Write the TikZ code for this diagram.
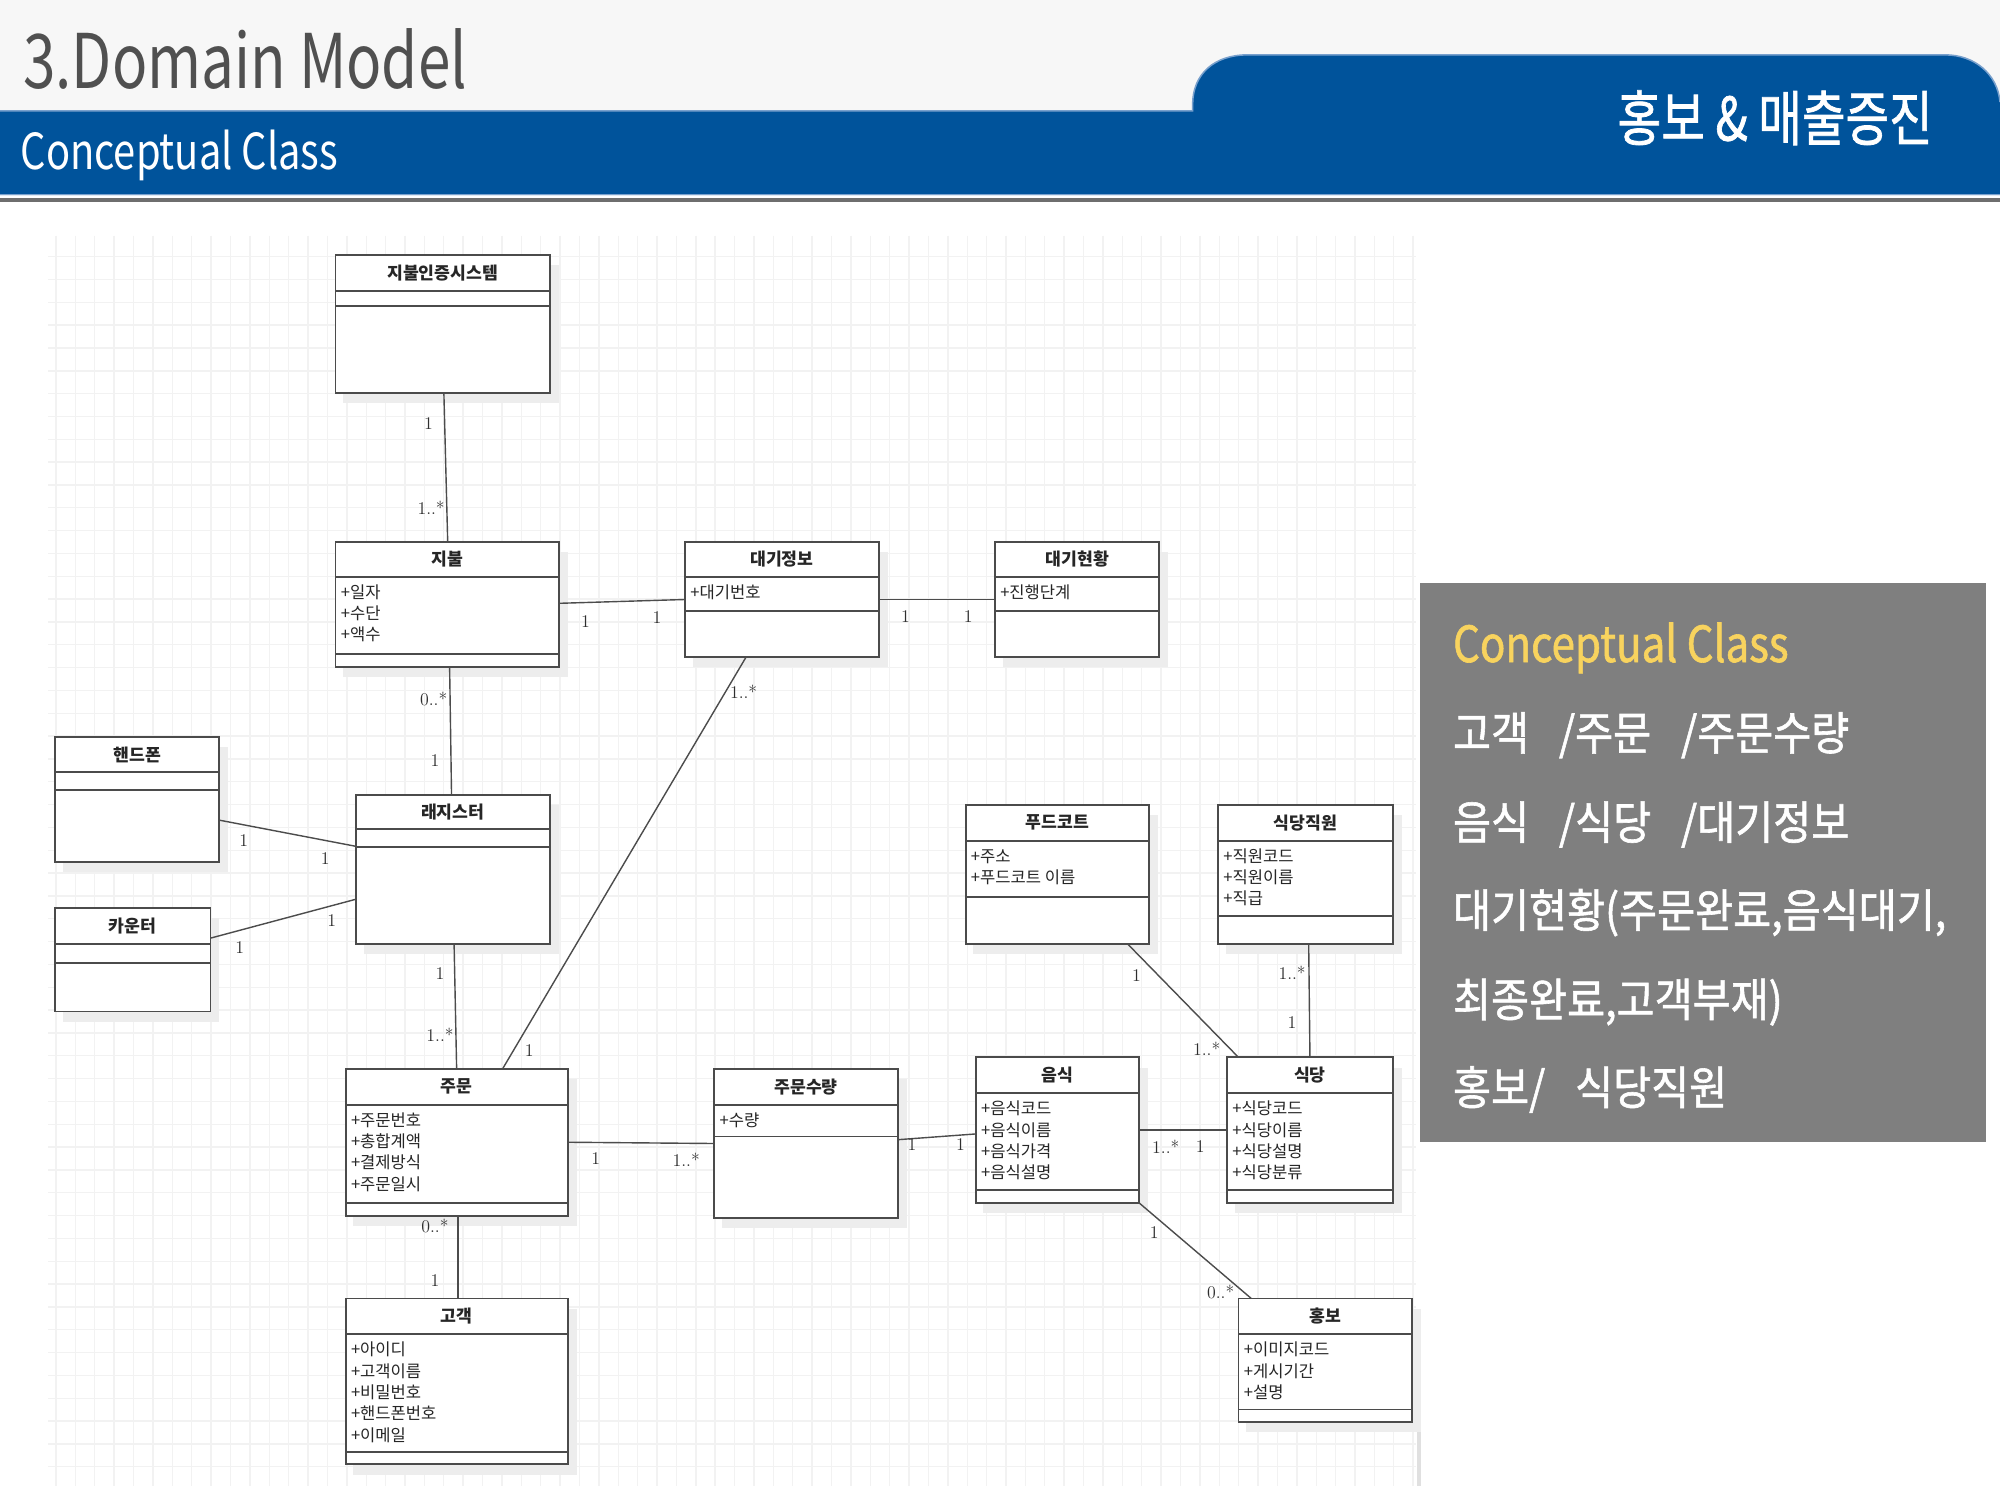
\documentclass[tikz,border=0pt]{standalone}
\usepackage{fontspec}
\usepackage{graphicx}
\usetikzlibrary{calc}
\newfontfamily\kr{Noto Sans CJK KR}
\newfontfamily\krm{Noto Sans CJK KR}[FakeBold=1.3]
\definecolor{hdrblue}{RGB}{0,83,155}
\definecolor{hdrlight}{RGB}{247,247,247}
\definecolor{hdrline}{RGB}{120,160,205}
\definecolor{hdrgray}{RGB}{80,80,80}
\definecolor{boxc}{RGB}{75,75,75}
\definecolor{panelgray}{RGB}{127,127,127}
\definecolor{panelyellow}{RGB}{248,211,94}
\definecolor{gridc}{RGB}{242,242,242}
\tikzset{
  clsbox/.style={draw=boxc, line width=1.5pt, fill=white, inner sep=0pt, outer sep=0pt},
  clsline/.style={draw=boxc, line width=1.5pt},
  boxshadow/.style={fill=black!7},
  clstitle/.style={font=\kr\bfseries\fontsize{13.5}{16}\selectfont, text=black!85, inner sep=0pt},
  clsattr/.style={font=\kr\fontsize{13}{16}\selectfont, text=black!85, inner sep=0pt},
  mult/.style={font=\rmfamily\fontsize{14}{16}\selectfont, text=black!82, inner sep=0pt},
  assoc/.style={draw=black!70, line width=1.1pt},
  gridl/.style={draw=gridc, line width=1.1pt},
  paneltext/.style={font=\krm\fontsize{36}{40}\selectfont, text=white, inner sep=0pt, anchor=base west},
}
% name, x1, y1, x2, y2, title, line1, line2, attributes
\newcommand\umlcls[9]{%
  \fill[boxshadow] ({#2+6},{#3+8}) rectangle ({#4+7},{#5+8});
  \node[clsbox, minimum width={#4-#2}, minimum height={#5-#3}, anchor=north west] (#1) at (#2,#3) {};
  \draw[clsline] (#2,#7) -- (#4,#7);
  \draw[clsline] (#2,#8) -- (#4,#8);
  \node[clstitle] (#1t) at ({(#2+#4)/2},{(#3+#7)/2}) {#6};
  \if\relax\detokenize{#9}\relax\else
    \foreach \a [count=\i] in {#9} {\node[clsattr, anchor=base west] (#1a\i) at ({#2+4},{#7+17+(\i-1)*16.7}) {\a};}
  \fi
}
\begin{document}
\begin{tikzpicture}[x=1pt,y=-1pt]
\useasboundingbox (0,0) rectangle (1568,1176);
\fill[white] (0,0) rectangle (1568,1176);
% ---------- header ----------
\fill[hdrlight] (0,0) rectangle (1568,87);
\fill[hdrblue] (0,87) -- (935,87) -- (935,82) .. controls (935,58) and (952,43) .. (978,43) -- (1525,43) .. controls (1548,43) and (1566,58) .. (1568,80) -- (1568,153) -- (0,153) -- cycle;
\draw[hdrline, line width=1.2pt] (0,87) -- (935,87) -- (935,82) .. controls (935,58) and (952,43) .. (978,43) -- (1525,43) .. controls (1548,43) and (1566,58) .. (1568,80);
\draw[hdrline, line width=1pt] (0,152.5) -- (1568,152.5);
\fill[black!57] (0,155.5) rectangle (1568,158.5);
\node[inner sep=0pt, anchor=base west, text=hdrgray] (title) at (18,69) {\resizebox{348pt}{47pt}{\kr 3.Domain Model}};
\node[inner sep=0pt, anchor=base west, text=white] (subtitle) at (16,133) {\resizebox{249pt}{31pt}{\kr Conceptual Class}};
\node[inner sep=0pt, anchor=south west, text=white] (tabtitle) at (1268,114) {\resizebox*{247pt}{43pt}{\krm 홍보 \& 매출증진}};
% ---------- grid ----------
\foreach \i in {0,...,70} \draw[gridl] ({43.9+\i*15.2},185) -- ({43.9+\i*15.2},1165);
\foreach \j in {0,...,53} \draw[gridl] (38,{201.2+\j*17.9}) -- (1110,{201.2+\j*17.9});
\fill[black!12] (1111,1120) rectangle (1114,1165);
% ---------- classes ----------
\umlcls{auth}{263}{200}{431}{308}{지불인증시스템}{228}{240}{}
\umlcls{pay}{263}{425}{438}{523}{지불}{452}{513}{+일자,+수단,+액수}
\umlcls{winfo}{537}{425}{689}{515}{대기정보}{452}{479}{+대기번호}
\umlcls{wstat}{780}{425}{909}{515}{대기현황}{452}{479}{+진행단계}
\umlcls{phone}{43}{578}{172}{676}{핸드폰}{605}{619}{}
\umlcls{counter}{43}{712}{165}{793}{카운터}{740}{755}{}
\umlcls{reg}{279}{623}{431}{740}{래지스터}{650}{664}{}
\umlcls{order}{271}{838}{445}{953}{주문}{866}{943}{+주문번호,+총합계액,+결제방식,+주문일시}
\umlcls{qty}{560}{838}{704}{955}{주문수량}{866}{891}{+수량}
\umlcls{food}{765}{829}{893}{943}{음식}{857}{933}{+음식코드,+음식이름,+음식가격,+음식설명}
\umlcls{rest}{962}{829}{1092}{943}{식당}{857}{933}{+식당코드,+식당이름,+식당설명,+식당분류}
\umlcls{court}{757}{631}{901}{740}{푸드코트}{659}{703}{+주소,+푸드코트 이름}
\umlcls{staff}{955}{631}{1092}{740}{식당직원}{659}{718}{+직원코드,+직원이름,+직급}
\umlcls{cust}{271}{1018}{445}{1148}{고객}{1046}{1138}{+아이디,+고객이름,+비밀번호,+핸드폰번호,+이메일}
\umlcls{promo}{971}{1018}{1107}{1115}{홍보}{1046}{1105}{+이미지코드,+게시기간,+설명}
% ---------- associations ----------
\draw[assoc] ($(auth.south)+(1,0)$) -- ($(pay.north)+(0.5,0)$);
\draw[assoc] ($(pay.east)+(0,-1)$) -- (winfo.west);
\draw[assoc] (winfo.east) -- (wstat.west);
\draw[assoc] ($(winfo.south)+(-28,0)$) -- ($(order.north)+(36,0)$);
\draw[assoc] ($(pay.south)+(2,0)$) -- ($(reg.north)+(-1,0)$);
\draw[assoc] ($(phone.east)+(0,16)$) -- ($(reg.west)+(0,-18)$);
\draw[assoc] ($(counter.east)+(0,-17)$) -- ($(reg.west)+(0,23.5)$);
\draw[assoc] ($(reg.south)+(1,0)$) -- (order.north);
\draw[assoc] (order.east) -- (qty.west);
\draw[assoc] ($(qty.east)+(0,-3)$) -- ($(food.west)+(0,3)$);
\draw[assoc] (food.east) -- (rest.west);
\draw[assoc] ($(court.south)+(55,0)$) -- ($(rest.north)+(-56,0)$);
\draw[assoc] ($(staff.south)+(2.5,0)$) -- (rest.north);
\draw[assoc] (food.south east) -- ($(promo.north west)+(10,0)$);
\draw[assoc] ($(order.south)+(1,0)$) -- ($(cust.north)+(1,0)$);
% ---------- multiplicities ----------
\foreach \t/\x/\y [count=\k] in {
  1/336/332, 1..*/338/398,
  1/459/487, 1/515/484,
  1/710/483, 1/759/483,
  1..*/583/542, 1/415/824,
  0..*/340/548, 1/341/596,
  1/191/659, 1/255/673,
  1/188/743, 1/260/722,
  1/345/763, 1..*/345/811,
  1/467/908, 1..*/538/909,
  1/715/897, 1/753/897,
  1..*/914/899, 1/941/899,
  1/891/765, 1..*/946/822,
  1..*/1013/763, 1/1013/802,
  1/905/966, 0..*/957/1013,
  0..*/341/961, 1/341/1004}
  \node[mult] (m\k) at (\x,\y) {\t};
% ---------- side panel ----------
\fill[panelgray] (1113,457) rectangle (1557,895);
\node[inner sep=0pt, anchor=base west, text=panelyellow] (ptitle) at (1139,519) {\resizebox{263pt}{31pt}{\krm Conceptual Class}};
\node[paneltext] (p1) at (1139,588) {\scalebox{0.9}[1]{고객\hspace{26pt}/주문\hspace{26pt}/주문수량}};
\node[paneltext] (p2) at (1139,658) {\scalebox{0.9}[1]{음식\hspace{26pt}/식당\hspace{26pt}/대기정보}};
\node[paneltext] (p3) at (1139,727) {\scalebox{0.9}[1]{대기현황(주문완료,음식대기,}};
\node[paneltext] (p4) at (1139,797) {\scalebox{0.9}[1]{최종완료,고객부재)}};
\node[paneltext] (p5) at (1139,866) {\scalebox{0.9}[1]{홍보/\hspace{26pt}식당직원}};
\end{tikzpicture}
\end{document}
